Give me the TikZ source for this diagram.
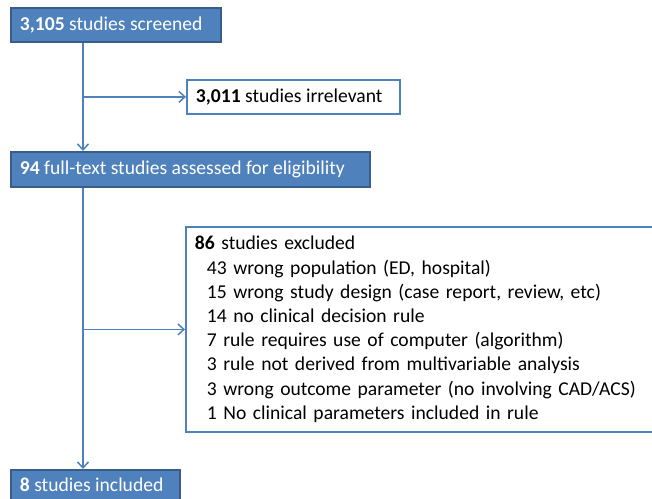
\documentclass[tikz,border=0pt]{standalone}
\usepackage{fontspec}
\setmainfont{Carlito}
\usetikzlibrary{arrows.meta}
\definecolor{boxfill}{HTML}{4F81BD}
\definecolor{boxedge}{HTML}{385D8A}
\definecolor{lineblue}{HTML}{4F81BD}
\begin{document}
\begin{tikzpicture}[x=1pt,y=1pt,
  bluebox/.style={draw=boxedge, fill=boxfill, line width=1.8pt, text=white,
    anchor=north west, inner xsep=9pt, inner ysep=0pt,
    font=\fontsize{19.6}{24.2}\selectfont},
  whitebox/.style={draw=lineblue, fill=white, line width=1.8pt, text=black,
    anchor=north west, inner xsep=9pt, inner ysep=0pt,
    font=\fontsize{19.6}{24.2}\selectfont},
  conn/.style={draw=lineblue, line width=1.5pt, -{Straight Barb[length=6pt,width=11pt]}}]
\clip (0,0) rectangle (652,-498);
\useasboundingbox (0,0) rectangle (652,-498);
\coordinate (spine) at (83,0);
\node[bluebox, minimum width=210pt, minimum height=34pt] (b1) at (10,-7)
  {\makebox[192pt][l]{\textbf{3,105} studies screened}};
\node[whitebox, minimum width=213pt, minimum height=34pt] (irr) at (186,-79)
  {\makebox[195pt][l]{\textbf{3,011} studies irrelevant}};
\node[bluebox, minimum width=359pt, minimum height=35pt] (b2) at (10,-151)
  {\makebox[341pt][l]{\textbf{94} full-text studies assessed for eligibility}};
\node[whitebox, minimum width=480pt, minimum height=205pt, text width=462pt, align=left] (exc) at (185,-226)
  {\textbf{86} studies excluded\\
   \hspace{12pt}43 wrong population (ED, hospital)\\
   \hspace{12pt}15 wrong study design (case report, review, etc)\\
   \hspace{12pt}14 no clinical decision rule\\
   \hspace{12pt}7 rule requires use of computer (algorithm)\\
   \hspace{12pt}3 rule not derived from multivariable analysis\\
   \hspace{12pt}3 wrong outcome parameter (no involving CAD/ACS)\\
   \hspace{12pt}1 No clinical parameters included in rule};
\node[bluebox, minimum width=169pt, minimum height=40pt, text depth=0pt] (b3) at (10,-469)
  {\makebox[151pt][l]{\raisebox{10pt}{\textbf{8} studies included}}};
\draw[conn] (b1.south -| spine) -- (b2.north -| spine);
\draw[conn] (irr.west -| spine) -- (irr.west);
\draw[conn] (b2.south -| spine) -- (b3.north -| spine);
\draw[conn] (exc.west -| spine) -- (exc.west);
\end{tikzpicture}
\end{document}
